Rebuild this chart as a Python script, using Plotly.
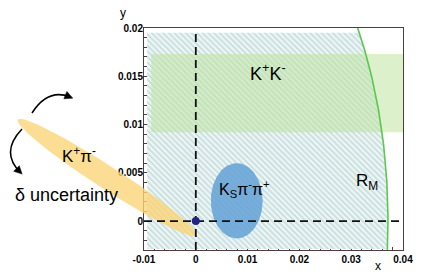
import numpy as np
import plotly.graph_objects as go

W, H = 436, 279
L, R, T, B = 144, 403, 28, 250  # plot box (px)

x_range = [-0.01, 0.04]
y_range = [-0.003, 0.02]
x_tickvals = [-0.01, 0, 0.01, 0.02, 0.03, 0.04]
x_ticktext = ["-0.01", "0", "0.01", "0.02", "0.03", "0.04"]
y_tickvals = [0, 0.005, 0.01, 0.015, 0.02]
y_ticktext = ["0", "0.005", "0.01", "0.015", "0.02"]

# allowed (hatched) region, bounded on the right by R_M
hatch_x_left = -0.0094
hatch_y = [-0.0029, 0.0195]
rm_radius = 0.0371
rm_y = [-0.003, 0.02]
# K+K- band
kk_x = [-0.0086, 0.04]
kk_y = [0.0092, 0.0173]
# Ks pi- pi+ ellipse
kspp_center = [0.0079, 0.0021]
kspp_semi = [0.005, 0.0039]
# K+ pi- ellipse (center, half-major vector, half-minor vector)
kpi_center = [-0.0171, 0.0045]
kpi_major = [0.01725, -0.0060]
kpi_minor = [0.00122, 0.00100]
# central value
best_x = [0.0]
best_y = [0.0]

sx = (R - L) / (x_range[1] - x_range[0])
sy = (B - T) / (y_range[1] - y_range[0])
x2_range = [x_range[0] - L / sx, x_range[1] + (W - R) / sx]
y2_range = [y_range[0] - (H - B) / sy, y_range[1] + T / sy]

def px(x):
    return x / W

def py(y):
    return 1 - y / H

fig = go.Figure()

# hatched region
yy = np.linspace(hatch_y[1], hatch_y[0], 60)
xc = np.sqrt(rm_radius ** 2 - yy ** 2)
hx = [hatch_x_left, hatch_x_left] + list(xc) + [hatch_x_left]
hy = [hatch_y[0], hatch_y[1]] + list(yy) + [hatch_y[0]]
fig.add_trace(go.Scatter(
    x=hx, y=hy, xaxis="x2", yaxis="y2", mode="lines", line=dict(width=0),
    fill="toself", fillcolor="rgb(238,246,246)",
    fillpattern=dict(shape="\\", fgcolor="rgb(160,196,196)", bgcolor="rgb(238,246,246)",
                     size=4, solidity=0.45),
    hoverinfo="skip", showlegend=False))

# K+K- band
fig.add_trace(go.Scatter(
    x=[kk_x[0], kk_x[1], kk_x[1], kk_x[0], kk_x[0]],
    y=[kk_y[0], kk_y[0], kk_y[1], kk_y[1], kk_y[0]],
    xaxis="x2", yaxis="y2", mode="lines", line=dict(width=0),
    fill="toself", fillcolor="rgba(190,228,160,0.55)",
    hoverinfo="skip", showlegend=False))

t = np.linspace(0, 2 * np.pi, 120)
# K pi ellipse
ex = kpi_center[0] + kpi_major[0] * np.cos(t) + kpi_minor[0] * np.sin(t)
ey = kpi_center[1] + kpi_major[1] * np.cos(t) + kpi_minor[1] * np.sin(t)
fig.add_trace(go.Scatter(
    x=ex, y=ey, xaxis="x2", yaxis="y2", mode="lines", line=dict(width=0),
    fill="toself", fillcolor="rgba(250,212,120,0.8)",
    hoverinfo="skip", showlegend=False))

# Ks pi pi ellipse
bx = kspp_center[0] + kspp_semi[0] * np.cos(t)
by = kspp_center[1] + kspp_semi[1] * np.sin(t)
fig.add_trace(go.Scatter(
    x=bx, y=by, xaxis="x2", yaxis="y2", mode="lines", line=dict(width=0),
    fill="toself", fillcolor="rgba(105,165,215,0.9)",
    hoverinfo="skip", showlegend=False))

# R_M curve
ry = np.linspace(rm_y[0], rm_y[1], 80)
rx = np.sqrt(rm_radius ** 2 - ry ** 2)
fig.add_trace(go.Scatter(
    x=rx, y=ry, xaxis="x2", yaxis="y2", mode="lines",
    line=dict(color="rgb(90,200,80)", width=1.6),
    hoverinfo="skip", showlegend=False))

# dashed axes lines
fig.add_trace(go.Scatter(
    x=[0, 0], y=[y_range[0], hatch_y[1]], xaxis="x2", yaxis="y2", mode="lines",
    line=dict(color="#111", width=1.8, dash="8px,5px"),
    hoverinfo="skip", showlegend=False))
fig.add_trace(go.Scatter(
    x=[x_range[0], x_range[1]], y=[0, 0], xaxis="x2", yaxis="y2", mode="lines",
    line=dict(color="#111", width=1.8, dash="8px,5px"),
    hoverinfo="skip", showlegend=False))

# central point
fig.add_trace(go.Scatter(
    x=best_x, y=best_y, xaxis="x2", yaxis="y2", mode="markers",
    marker=dict(color="rgb(35,35,130)", size=8),
    hoverinfo="skip", showlegend=False))

# placeholder on main axes
fig.add_trace(go.Scatter(x=[None], y=[None], xaxis="x", yaxis="y", showlegend=False))

tickfont = dict(family="Arial", size=10, color="black", weight="bold")
fig.update_layout(
    width=W, height=H,
    margin=dict(l=0, r=0, t=0, b=0),
    paper_bgcolor="white", plot_bgcolor="rgba(0,0,0,0)",
    xaxis=dict(domain=[L / W, R / W], range=x_range, anchor="y",
               tickvals=x_tickvals, ticktext=x_ticktext, ticks="inside", ticklen=6,
               tickcolor="rgb(80,60,60)",
               minor=dict(ticks="inside", ticklen=3, dtick=0.002, tick0=0, tickcolor="rgb(80,60,60)"),
               showline=True, linecolor="rgb(80,60,60)", linewidth=1, mirror=True,
               showgrid=False, zeroline=False, tickfont=tickfont, automargin=False),
    yaxis=dict(domain=[1 - B / H, 1 - T / H], range=y_range, anchor="x",
               tickvals=y_tickvals, ticktext=y_ticktext, ticks="inside", ticklen=6,
               tickcolor="rgb(80,60,60)",
               minor=dict(ticks="inside", ticklen=3, dtick=0.001, tick0=0, tickcolor="rgb(80,60,60)"),
               showline=True, linecolor="rgb(80,60,60)", linewidth=1, mirror=True,
               showgrid=False, zeroline=False, tickfont=tickfont, automargin=False,
               ticklabelstandoff=-2),
    xaxis2=dict(domain=[0, 1], range=x2_range, anchor="y2", visible=False),
    yaxis2=dict(domain=[0, 1], range=y2_range, anchor="x2", visible=False),
)

txt = dict(family="Arial", color="black")
ann = [
    ("K<sup>+</sup>K<sup>-</sup>", 268, 72, 18),
    ("K<sub>S</sub>π<sup>-</sup>π<sup>+</sup>", 244, 189, 16),
    ("R<sub>M</sub>", 367, 182, 17),
    ("K<sup>+</sup>π<sup>-</sup>", 79, 155, 17),
    ("δ uncertainty", 66, 195, 18),
    ("y", 123, 13, 12),
    ("x", 378, 266, 12),
]
for text, ax_, ay_, fs in ann:
    fig.add_annotation(text=text, x=px(ax_), y=py(ay_), xref="paper", yref="paper",
                       showarrow=False, xanchor="center", yanchor="middle",
                       font=dict(size=fs, **txt))

# curved arrows (decorations)
arrows = [((32, 113), (48, 88), (70, 97)), ((22, 129), (0, 152), (20, 172))]
for (p0, c, p1) in arrows:
    path = "M {} {} Q {} {} {} {}".format(px(p0[0]), py(p0[1]), px(c[0]), py(c[1]), px(p1[0]), py(p1[1]))
    fig.add_shape(type="path", path=path, xref="paper", yref="paper",
                  line=dict(color="black", width=1.5))
    d = np.array([p1[0] - c[0], p1[1] - c[1]], float)
    d /= np.linalg.norm(d)
    n = np.array([-d[1], d[0]])
    tip = np.array(p1, float) + d * 3
    base = tip - d * 8
    a = base + n * 4
    b2 = base - n * 4
    hp = "M {} {} L {} {} L {} {} Z".format(px(tip[0]), py(tip[1]), px(a[0]), py(a[1]), px(b2[0]), py(b2[1]))
    fig.add_shape(type="path", path=hp, xref="paper", yref="paper",
                  line=dict(color="black", width=0.5), fillcolor="black")

fig.write_html("out.html", config={"displayModeBar": False},
               post_script="document.body.style.margin='0';document.body.style.overflow='hidden';")
